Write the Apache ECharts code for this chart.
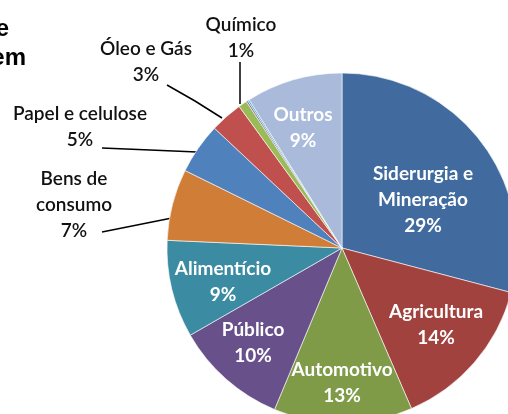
<!DOCTYPE html>
<html>
<head>
<meta charset="utf-8">
<script src="https://cdn.jsdelivr.net/npm/echarts@6/dist/echarts.min.js"></script>
<style>
  html, body { margin: 0; padding: 0; background: #fff; }
  #chart { width: 508px; height: 414px; }
</style>
</head>
<body>
<div id="chart"></div>
<script>
// segment shares (percent), clockwise from 12 o'clock
const categories = ['Siderurgia e\nMineração', 'Agricultura', 'Automotivo', 'Público', 'Alimentício',
  'Bens de\nconsumo', 'Papel e celulose', 'Óleo e Gás', 'Químico', '', '', 'Outros'];
const shares = [29.1, 14.4, 12.8, 10.4, 9.0, 6.6, 4.7, 3.0, 0.8, 0.15, 0.15, 8.9];
const colors = ['#416b9e', '#a1423f', '#7f9b48', '#68518a', '#3b8ca3', '#d07d38',
  '#4f81bd', '#c0504d', '#9bbb59', '#8064a2', '#4bacc6', '#a9badb'];

// where each label sits (label centre), and leader lines for outside ones
const labelAt = {
  0: [423, 200], 1: [436, 325], 2: [342, 383], 3: [253, 343], 4: [223, 282],
  5: [74, 205], 6: [80, 127], 7: [146, 62], 8: [241, 38], 11: [303, 128]
};
const leaders = {
  5: [[172, 218], [137, 225], [102, 232]],
  6: [[197, 152], [150, 150], [102, 148]],
  7: [[222, 118], [195, 101], [167, 85]],
  8: [[240, 104], [240, 83], [240, 62]]
};
const outside = [5, 6, 7, 8];

let chart = echarts.init(document.getElementById('chart'));

let data = shares.map(function (v, i) {
  let item = {
    name: categories[i] || ('x' + i),
    value: v,
    itemStyle: { color: colors[i] }
  };
  if (!categories[i]) {
    item.label = { show: false };
    item.labelLine = { show: false };
  } else if (outside.indexOf(i) >= 0) {
    item.label = { position: 'outside', color: '#111', fontWeight: 600 };
    item.labelLine = { show: true };
  }
  return item;
});

chart.setOption({
  animation: false,
  graphic: [
    { type: 'text', x: 9, y: 29, style: { text: 'e', font: 'bold 24px "Liberation Sans"', fill: '#000', textAlign: 'right', textVerticalAlign: 'middle' } },
    { type: 'text', x: 26, y: 58, style: { text: 'em', font: 'bold 24px "Liberation Sans"', fill: '#000', textAlign: 'right', textVerticalAlign: 'middle' } }
  ],
  series: [
    {
      type: 'pie',
      center: [342, 248],
      radius: 175,
      startAngle: 90,
      clockwise: true,
      avoidLabelOverlap: false,
      itemStyle: { borderColor: '#ffffff', borderWidth: 0.6 },
      label: {
        show: true,
        position: 'inside',
        color: '#fff',
        fontFamily: 'Lato',
        fontWeight: 'bold',
        fontSize: 19,
        lineHeight: 26,
        align: 'center',
        formatter: function (p) {
          return p.name + '\n' + Math.round(p.value) + '%';
        }
      },
      labelLine: {
        show: false,
        lineStyle: { color: '#000', width: 1.5 }
      },
      labelLayout: function (p) {
        let pos = labelAt[p.dataIndex];
        if (!pos) return {};
        let out = { x: pos[0], y: pos[1], align: 'center', verticalAlign: 'middle' };
        if (leaders[p.dataIndex]) out.labelLinePoints = leaders[p.dataIndex];
        return out;
      },
      data: data
    }
  ]
});
</script>
</body>
</html>
